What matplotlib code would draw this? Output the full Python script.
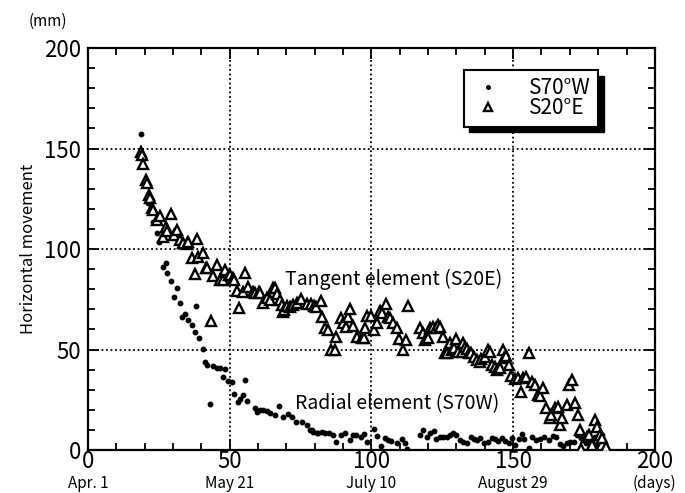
import matplotlib.pyplot as plt
from matplotlib.patches import Rectangle
from matplotlib.ticker import MultipleLocator
import matplotlib.transforms as mtransforms

plt.rcParams['font.family'] = ['Noto Sans CJK JP', 'DejaVu Sans']

# S20E (tangent element) - open triangles
tan_days = [18.6, 18.9, 19.3, 20.5, 20.8, 21.5, 21.9, 22.5, 23.0, 24.4, 25.4, 26.6, 27.5, 27.9,
            29.2, 30.4, 31.5, 32.5, 33.6, 34.8, 35.3, 36.6, 37.7, 38.3, 38.9, 40.4, 41.6, 42.0,
            43.3, 44.2, 45.4, 46.6, 47.5, 48.3, 49.8, 50.1, 51.3, 51.6, 52.4, 53.3, 54.6, 55.4,
            56.3, 58.3, 58.9, 60.4, 60.7, 61.8, 63.0, 64.2, 65.4, 66.0, 66.8, 67.7, 68.3, 68.9,
            69.1, 70.3, 71.3, 72.4, 73.8, 75.3, 77.1, 78.5, 79.7, 80.6, 82.1, 82.7, 83.6, 84.8,
            85.9, 87.1, 87.5, 89.1, 90.1, 91.0, 91.8, 92.4, 93.6, 95.0, 96.5, 97.2, 97.7, 98.6,
            100.0, 100.9, 102.0, 103.0, 103.9, 105.0, 105.9, 106.7, 107.5, 108.9, 109.8, 111.0,
            112.2, 113.0, 117.1, 118.3, 118.9, 120.0, 120.6, 121.8, 122.7, 123.6, 124.3, 125.1,
            125.9, 126.6, 127.7, 128.3, 129.1, 130.0, 130.6, 131.8, 132.4, 133.0, 133.6, 134.3,
            135.0, 136.2, 137.1, 138.3, 138.8, 140.0, 141.2, 141.8, 142.7, 143.6, 144.4, 145.3,
            146.3, 146.7, 147.5, 148.6, 149.4, 150.6, 151.8, 152.6, 153.5, 154.6, 155.7, 156.5,
            157.7, 158.6, 159.5, 160.4, 161.6, 162.9, 163.5, 164.7, 165.9, 166.5, 167.4, 169.0,
            169.8, 170.6, 171.8, 173.0, 173.5, 174.1, 175.9, 176.8, 177.7, 178.8, 179.7, 180.6,
            181.5, 182.7]
tan_mm = [148.4, 147, 142.1, 134.3, 133, 126.9, 125.5, 120.2, 119.4, 114.4, 116.6, 106.1, 111.1, 109,
          117.3, 107, 109.5, 104.5, 102.8, 102.5, 103.5, 95.4, 87.6, 105, 96.2, 97.9, 90.7, 90.5,
          64.2, 86.7, 92, 84.6, 84.6, 89.6, 87.1, 87.1, 85.4, 84.6, 79.3, 70.8, 78.8, 88.2,
          81.3, 78.8, 78.3, 78.8, 78.3, 73, 75.5, 74.6, 80.4, 80.5, 77.4, 74.6, 72.1, 68.8,
          69.7, 71.6, 71, 72.1, 73, 75.1, 72.5, 72.5, 71.8, 71, 74.3, 66.3, 60.5, 59.7,
          49.8, 49.8, 56.4, 65.8, 63, 61.3, 66.3, 70, 61.7, 56.4, 55.6, 55.8, 60.5, 66.7,
          66.7, 59.7, 63, 69.3, 68, 72.6, 66.3, 65.5, 63.3, 60.5, 55.1, 49.8,
          54.7, 71.6, 60.5, 58.4, 54.7, 55.6, 60.8, 61, 60.5, 62.2, 61, 56.4,
          48.4, 48.4, 53.1, 49.8, 50.6, 55.1, 48.9, 48.9, 53.1, 51.4, 50.1, 48.5,
          48.1, 46.4, 44.8, 43.9, 45.5, 46.4, 49.8, 49, 42.3, 41.1, 39.8, 40.6,
          49.8, 45.6, 47, 42.3, 36.8, 35.2, 35.7, 29, 36, 36.5, 48.4, 34,
          32.3, 27.4, 27, 30.7, 20.7, 15.8, 17.5, 20.7, 21.5, 12.4, 15.8, 22.4,
          32.3, 34.8, 23.2, 17.4, 10, 0.5, 6.3, 7.5, 2.5, 14.9, 11.6, 7.5,
          6, 1.6]

# S70W (radial element) - dots
rad_days = [18.6, 21.3, 22.8, 24.4, 25.2, 26.3, 27.5, 28.0, 29.2, 30.4, 31.3, 32.5, 33.0, 34.2,
            35.4, 36.6, 37.7, 38.1, 39.3, 40.4, 41.3, 41.9, 43.0, 44.2, 45.6, 46.6, 47.7, 48.3,
            49.5, 50.7, 51.5, 53.0, 53.5, 54.6, 55.4, 56.0, 58.9, 59.5, 60.7, 61.9, 63.0, 64.2,
            66.0, 67.5, 68.9, 70.7, 71.8, 73.4, 75.4, 77.1, 78.3, 78.9, 79.5, 80.9, 81.2, 82.4,
            83.6, 85.1, 86.3, 87.5, 89.1, 90.6, 92.4, 93.5, 94.7, 96.2, 97.2, 98.6, 100.9, 101.8,
            103.2, 104.7, 105.9, 107.0, 108.9, 110.7, 111.8, 112.6, 117.1, 118.3, 119.5, 120.6,
            122.0, 122.9, 124.1, 125.3, 126.5, 127.7, 128.8, 130.0, 131.2, 132.4, 133.6, 135.0,
            136.2, 137.4, 138.3, 139.8, 141.2, 142.4, 143.6, 144.8, 146.0, 147.2, 148.4, 149.5,
            150.6, 152.0, 153.0, 154.0, 155.5, 156.5, 158.0, 159.3, 160.9, 162.6, 163.9, 165.2,
            166.5, 167.7, 169.0, 170.2, 171.5, 172.7, 173.8, 174.8, 175.8, 176.8, 177.7, 178.8,
            179.5, 180.6, 181.2]
rad_mm = [157.2, 122.7, 113.6, 108.1, 103.3, 91.2, 92.9, 88.2, 84.2, 76.3, 80.4, 73.3, 66.3, 67.7,
          64.7, 62.2, 58.6, 71.6, 55.9, 50.2, 43.9, 42.3, 22.9, 41.8, 41, 40.6, 36.2, 40.1,
          34.3, 33.7, 27.7, 24, 25.5, 27.4, 34.8, 24.5, 20.7, 18.8, 19.9, 19.9, 19.6, 18.2,
          17.4, 21.9, 16.6, 17.9, 16.3, 14.1, 14.1, 12.4, 10, 10, 9.1, 8.6, 8.3, 8.8,
          8.3, 8.3, 7.5, 4.1, 7.5, 8.3, 5, 7.5, 7.5, 6.6, 8, 4.1, 10.3, 7,
          2.1, 6, 5, 4.6, 3.3, 5.4, 3.3, 0.5, 7.5, 10, 6.6, 8.3,
          9.6, 5.4, 6.3, 6.5, 6.3, 7.5, 8.3, 7.5, 5, 4.1, 3.3, 6.6,
          5.5, 4.8, 5.8, 3.3, 4.1, 6.2, 5.4, 4.6, 5.8, 4.5, 3.6, 6,
          2.5, 5.5, 7.8, 5.5, 0.8, 6.4, 5, 5.5, 6.6, 4.8, 7.2, 6.4,
          3, 2.1, 3.5, 4.1, 4, 7.5, 6, 5, 3.5, 5.5, 4.5, 6.5,
          3, 4.5, 7.5]

x_ticks = [0, 50, 100, 150, 200]
date_labels = ['Apr. 1', 'May 21', 'July 10', 'August 29', '(days)']

fig = plt.figure(figsize=(6.85, 4.93), dpi=100)
ax = fig.add_axes([0.1285, 0.0872, 0.8275, 0.8154])

ax.plot(rad_days, rad_mm, 'o', color='black', markersize=3.2, label='S70°W', zorder=3)
ax.plot(tan_days, tan_mm, '^', markerfacecolor='white', markeredgecolor='black',
        markeredgewidth=1.7, markersize=6.5, label='S20°E', zorder=4)

ax.set_xlim(0, 200)
ax.set_ylim(0, 200)
ax.xaxis.set_major_locator(MultipleLocator(50))
ax.xaxis.set_minor_locator(MultipleLocator(10))
ax.yaxis.set_major_locator(MultipleLocator(50))
ax.yaxis.set_minor_locator(MultipleLocator(10))
ax.tick_params(which='both', direction='in', top=True, right=True, width=1.3)
ax.tick_params(which='major', length=8, labelsize=16)
ax.tick_params(axis='x', which='major', pad=0)
ax.tick_params(axis='y', which='major', pad=5)
ax.tick_params(which='minor', length=5)
ax.set_xticks(x_ticks)
for s in ax.spines.values():
    s.set_linewidth(1.6)

ax.grid(True, which='major', linestyle=(0, (1, 1.5)), color='black', linewidth=1.3)

# date labels under the day numbers
trans = mtransforms.blended_transform_factory(ax.transData, ax.transAxes)
for xv, lab in zip(x_ticks, date_labels):
    ax.text(xv, -0.061, lab, transform=trans, ha='center', va='top', fontsize=11)

ax.text(-0.07, 1.045, '(mm)', transform=ax.transAxes, ha='center', va='bottom', fontsize=11)
ax.set_ylabel('Horizontal movement', fontsize=12, labelpad=5)

ax.text(108, 85, 'Tangent element (S20E)', ha='center', va='center', fontsize=14)
ax.text(109, 23, 'Radial element (S70W)', ha='center', va='center', fontsize=14)

# legend with a drop shadow box
leg = ax.legend(loc='upper right', bbox_to_anchor=(0.9, 0.945), frameon=True, fancybox=False,
                fontsize=15, handletextpad=1.2, borderpad=0.35, borderaxespad=0, markerscale=0.8,
                handlelength=1.6, labelspacing=-0.1, framealpha=1)
leg.get_frame().set_edgecolor('black')
leg.get_frame().set_linewidth(1.5)
leg.set_zorder(10)
fig.canvas.draw()
bb = leg.get_window_extent().transformed(fig.transFigure.inverted())
shadow = Rectangle((bb.x0 + 0.008, bb.y0 - 0.011), bb.width, bb.height, transform=fig.transFigure,
                   facecolor='black', edgecolor='black', zorder=9, clip_on=False)
ax.add_patch(shadow)

fig.savefig('out.png', dpi=100)
